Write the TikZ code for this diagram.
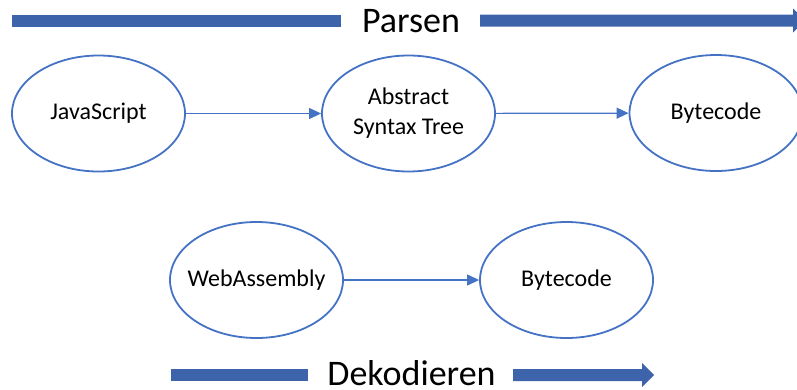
\documentclass[tikz,border=0pt]{standalone}
\usepackage{fontspec}
\setmainfont{Carlito}
\usetikzlibrary{shapes.geometric,arrows.meta}
\definecolor{ringblue}{RGB}{68,114,196}
\definecolor{barblue}{RGB}{61,100,170}
\tikzset{
  stage/.style={ellipse,draw=ringblue,line width=1.8pt,minimum width=173pt,minimum height=116pt,inner xsep=-30pt,inner ysep=0pt,align=center,font=\fontsize{24}{30}\selectfont},
  flow/.style={draw=ringblue,line width=1.2pt,-{Triangle[length=12pt,width=11pt]}},
  phase/.style={font=\fontsize{36}{40}\selectfont,inner sep=0pt,anchor=base},
  bar/.style={fill=barblue,draw=none}
}
\begin{document}
\begin{tikzpicture}[x=1pt,y=-1pt]
\clip (0,0) rectangle (797,389);
\useasboundingbox (0,0) rectangle (797,389);
% top phase
\fill[bar] (12,14.5) rectangle (341,26.5);
\node[phase] (parsen) at (411,32) {Parsen};
\fill[bar] (480,14.5) -- (793,14.5) -- (793,8.5) -- (805,20.5) -- (793,32.5) -- (793,26.5) -- (480,26.5) -- cycle;
% top row
\node[stage] (js) at (98.5,113.5) {JavaScript};
\node[stage] (ast) at (408.5,113.5) {Abstract\\Syntax Tree};
\node[stage] (bc1) at (716,113) {Bytecode};
\draw[flow] (js) -- (ast);
\draw[flow] (ast) -- (bc1);
% bottom row
\node[stage] (wasm) at (256.5,280) {WebAssembly};
\node[stage] (bc2) at (566.5,280) {Bytecode};
\draw[flow] (wasm) -- (bc2);
% bottom phase
\fill[bar] (171,369) rectangle (308,381);
\node[phase] (dek) at (411.5,385) {Dekodieren};
\fill[bar] (513,369) -- (642,369) -- (642,363) -- (654,375) -- (642,387) -- (642,381) -- (513,381) -- cycle;
\end{tikzpicture}
\end{document}
